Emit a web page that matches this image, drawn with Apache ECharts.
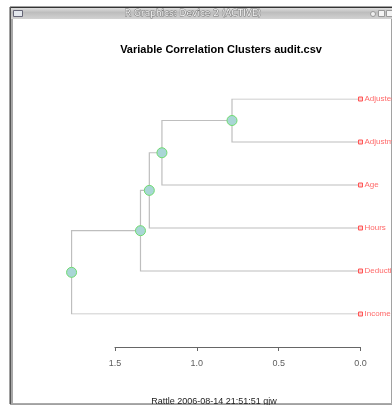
<!DOCTYPE html>
<html><head><meta charset="utf-8">
<script src="https://cdn.jsdelivr.net/npm/echarts@6/dist/echarts.min.js"></script>
<style>html,body{margin:0;padding:0;background:#fff;}#c{width:392px;height:405px;}</style>
</head><body><div id="c"></div>
<script>
// Leaves (top to bottom)
var leaves = ["Adjusted", "Adjustment", "Age", "Hours", "Deductions", "Income"];
// hclust-style merges: negative = leaf index (1-based), positive = earlier merge
var merges = [[-1, -2], [1, -3], [2, -4], [3, -5], [4, -6]];
var mergeHeights = [0.785, 1.213, 1.290, 1.344, 1.765];
var tickValues = [0, 0.5, 1.0, 1.5];

// tree layout from merges
var nodePos = [];
function childPos(c) {
  if (c < 0) return [0, -c];
  return nodePos[c - 1];
}
var segs = [], nodes = [];
merges.forEach(function (m, i) {
  var a = childPos(m[0]), b = childPos(m[1]);
  var h = mergeHeights[i];
  var y = (a[1] + b[1]) / 2;
  nodePos.push([h, y]);
  segs.push({coords: [[a[0], a[1]], [h, a[1]], [h, b[1]], [b[0], b[1]]]});
  nodes.push([h, y]);
});
var leafData = leaves.map(function (n, i) { return {value: [0, i + 1], name: n}; });

var pxPerUnit = 163.7;
var rightPx = 360.5;
var dataMax = 2.0;
var chart = echarts.init(document.getElementById('c'), null, {renderer: 'canvas'});
chart.setOption({
  animation: false,
  backgroundColor: '#ffffff',
  graphic: [
    {type: 'rect', shape: {x: 10, y: 7, width: 382, height: 397}, style: {fill: '#fff', stroke: '#444', lineWidth: 1}, silent: true, z: -10},
    {type: 'rect', shape: {x: 10, y: 7, width: 382, height: 12},
      style: {fill: new echarts.graphic.LinearGradient(0, 0, 0, 1, [
        {offset: 0, color: '#e6e6e6'}, {offset: 0.45, color: '#bdbdbd'}, {offset: 1, color: '#d2d2d2'}])}, silent: true, z: -5},
    {type: 'line', shape: {x1: 10, y1: 7.5, x2: 392, y2: 7.5}, style: {stroke: '#333', lineWidth: 1}, z: -4},
    {type: 'rect', shape: {x: 10, y: 19, width: 3, height: 385}, style: {fill: '#a8a8a8'}, z: -4},
    {type: 'line', shape: {x1: 10.5, y1: 7, x2: 10.5, y2: 404}, style: {stroke: '#555', lineWidth: 1}, z: -3},
    {type: 'line', shape: {x1: 13, y1: 403.5, x2: 392, y2: 403.5}, style: {stroke: '#aaa', lineWidth: 1}, z: -3},
    {type: 'rect', shape: {x: 13.5, y: 10.5, width: 9, height: 6}, style: {fill: '#e4e8ee', stroke: '#667', lineWidth: 1}, z: -3},
    {type: 'text', x: 193, y: 9, style: {text: 'R Graphics: Device 2 (ACTIVE)', fill: '#f4f4f4', font: '9px "DejaVu Sans"', stroke: '#7a7a7a', lineWidth: 1, textAlign: 'center'}, z: -2},
    {type: 'circle', shape: {cx: 373, cy: 14, r: 2.5}, style: {fill: '#f0f0f0', stroke: '#999'}, z: -2},
    {type: 'rect', shape: {x: 378.5, y: 10.5, width: 6, height: 6}, style: {fill: '#f4f4f4', stroke: '#999'}, z: -2},
    {type: 'rect', shape: {x: 386.5, y: 10.5, width: 6, height: 6}, style: {fill: '#f4f4f4', stroke: '#999'}, z: -2}
  ],
  title: [
    {text: 'Variable Correlation Clusters audit.csv', left: 216, top: 39, textAlign: 'center',
      textStyle: {fontFamily: 'Liberation Sans', fontWeight: 'bold', fontSize: 11, color: '#000'}},
    {text: 'Rattle 2006-08-14 21:51:51 gjw', left: 209, top: 392, textAlign: 'center',
      textStyle: {fontFamily: 'Liberation Sans', fontWeight: 'normal', fontSize: 9, color: '#222'}}
  ],
  grid: [
    {left: rightPx - dataMax * pxPerUnit, width: dataMax * pxPerUnit, top: 99, height: 215},
    {left: rightPx - 1.5 * pxPerUnit, width: 1.5 * pxPerUnit, top: 347, height: 0}
  ],
  xAxis: [
    {gridIndex: 0, type: 'value', min: 0, max: dataMax, inverse: true, show: false},
    {gridIndex: 1, type: 'value', min: 0, max: 1.5, interval: 0.5, inverse: true, position: 'top',
      axisLine: {show: true, lineStyle: {color: '#666', width: 1}},
      axisTick: {show: true, inside: true, length: 4, lineStyle: {color: '#666'}},
      splitLine: {show: false},
      axisLabel: {show: false}}
  ],
  yAxis: [
    {gridIndex: 0, type: 'value', min: 1, max: 6, inverse: true, show: false},
    {gridIndex: 1, type: 'value', show: false}
  ],
  series: [
    {type: 'lines', coordinateSystem: 'cartesian2d', xAxisIndex: 0, yAxisIndex: 0, polyline: true,
      lineStyle: {color: '#bebebe', width: 1.2, opacity: 1}, data: segs, silent: true, z: 1},
    {type: 'scatter', xAxisIndex: 0, yAxisIndex: 0, data: nodes, symbol: 'circle', symbolSize: 10,
      itemStyle: {color: '#a9d6d6', borderColor: '#6fdc6f', borderWidth: 1, opacity: 1}, z: 3, silent: true},
    {type: 'scatter', xAxisIndex: 0, yAxisIndex: 0, data: leafData, symbol: 'rect', symbolSize: 4,
      itemStyle: {color: '#ffd0d0', borderColor: '#ff5555', borderWidth: 1, opacity: 1}, z: 3, silent: true,
      label: {show: true, position: 'right', distance: 1.5, formatter: '{b}',
        fontFamily: 'Liberation Sans Narrow, Liberation Sans', fontSize: 8, color: '#ff6a6a'}},
    {type: 'scatter', xAxisIndex: 1, yAxisIndex: 1, symbolSize: 0,
      data: tickValues.map(function (v) { return [v, 0]; }), silent: true,
      label: {show: true, position: 'bottom', distance: 12,
        formatter: function (p) { return p.value[0].toFixed(1); },
        fontFamily: 'Liberation Sans', fontSize: 9, color: '#333'}}
  ]
});
</script></body></html>
